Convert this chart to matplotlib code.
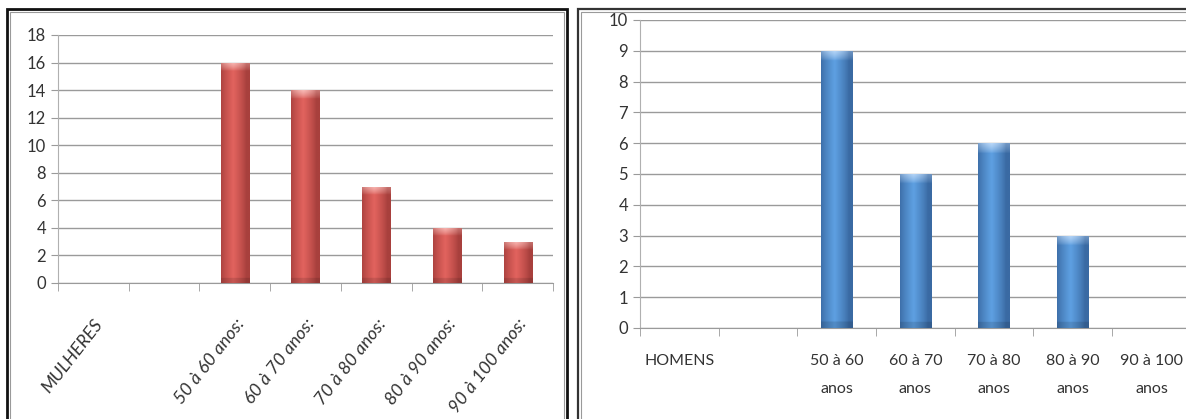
import numpy as np
import matplotlib
matplotlib.use('Agg')
import matplotlib.pyplot as plt
from matplotlib.patches import Rectangle
from matplotlib.colors import to_rgb

plt.rcParams['font.family'] = ['Liberation Sans Narrow', 'Lato', 'DejaVu Sans']

# Women by age group
mulheres_labels = ['MULHERES', '', '50 à 60 anos:', '60 à 70 anos:', '70 à 80 anos:',
                   '80 à 90 anos:', '90 à 100 anos:']
mulheres_values = [0, 0, 16, 14, 7, 4, 3]

# Men by age group
homens_labels = ['HOMENS', '', '50 à 60\nanos', '60 à 70\nanos', '70 à 80\nanos',
                 '80 à 90\nanos', '90 à 100\nanos']
homens_values = [0, 0, 9, 5, 6, 3, 0]


def shaded_bars(ax, values, base, light, dark, tint, cap):
    # plain bars first, then a gradient image clipped to each one
    x = np.arange(len(values))
    bars = ax.bar(x, values, width=0.4, color=base, edgecolor='none', zorder=3)
    light_rgb, dark_rgb, tint_rgb = (np.array(to_rgb(c)) for c in (light, dark, tint))
    cols = np.linspace(-1, 1, 40)
    # bright just left of centre, darker at both edges
    w = np.clip(1 - np.abs(cols + 0.15) * 1.1, 0, 1) ** 0.8
    for b, v in zip(bars, values):
        if v <= 0:
            continue
        ys = np.linspace(v, 0, 300)
        img = dark_rgb[None, None, :] + (light_rgb - dark_rgb)[None, None, :] * w[None, :, None]
        img = np.repeat(img, len(ys), axis=0)
        # soft highlight fading down from the top edge, narrower towards the sides
        k = np.clip(1 - (v - ys) / cap, 0, 1)[:, None] ** 0.7 * (0.35 + 0.4 * w[None, :])
        img = img * (1 - k[..., None]) + tint_rgb[None, None, :] * k[..., None]
        bot = ys < cap * 0.6
        img[bot] = img[bot] * 0.88
        im = ax.imshow(np.clip(img, 0, 1), extent=(b.get_x(), b.get_x() + b.get_width(), 0, v),
                       aspect='auto', zorder=4, interpolation='bilinear')
        im.set_clip_path(b)
    return x


def style_axes(ax, n, ymax, step):
    ax.set_xlim(-0.5, n - 0.5)
    ax.set_ylim(0, ymax)
    ax.set_yticks(np.arange(0, ymax + 1, step))
    ax.yaxis.grid(True, color='#9a9a9a', lw=1, zorder=0)
    ax.set_axisbelow(True)
    for s in ['top', 'right']:
        ax.spines[s].set_visible(False)
    ax.spines['left'].set_color('#b0b0b0')
    ax.spines['bottom'].set_color('#9a9a9a')
    ax.tick_params(axis='y', colors='#9a9a9a', length=5, labelcolor='#333333', labelsize=12)
    ax.set_xticks(np.arange(n + 1) - 0.5, minor=True)
    ax.tick_params(axis='x', which='minor', length=6, color='#9a9a9a')
    ax.tick_params(axis='x', which='major', length=0)


fig = plt.figure(figsize=(11.86, 4.19), dpi=100)

# left panel: women
ax1 = fig.add_axes([0.0489, 0.3246, 0.4174, 0.5919])
x1 = shaded_bars(ax1, mulheres_values, '#c0504d', '#e2635e', '#a8403d', '#ffd8d4', 0.6)
style_axes(ax1, len(mulheres_values), 18, 2)
ax1.set_xticks(x1)
ax1.set_xticklabels(mulheres_labels, rotation=52, ha='right', rotation_mode='anchor',
                    fontsize=13, style='italic', color='#333333')
ax1.tick_params(axis='x', which='major', pad=24)

# right panel: men
ax2 = fig.add_axes([0.5396, 0.2172, 0.4645, 0.7351])
x2 = shaded_bars(ax2, homens_values, '#4f81bd', '#5ea0e2', '#3a6aa3', '#d8eaff', 0.32)
style_axes(ax2, len(homens_values), 10, 1)
ax2.set_xticks(x2)
ax2.set_xticklabels(homens_labels, fontsize=11.5, color='#333333', linespacing=2.2, va='top')
ax2.tick_params(axis='x', which='major', pad=19)

# panel frames
fig.patches.append(Rectangle((0.0059, -0.05), 0.4722, 1.0285, transform=fig.transFigure,
                             fill=False, edgecolor='#111111', lw=2))
fig.patches.append(Rectangle((0.0085, -0.05), 0.467, 1.022, transform=fig.transFigure,
                             fill=False, edgecolor='#9a9a9a', lw=0.8))
fig.patches.append(Rectangle((0.4874, -0.05), 0.6, 1.0285, transform=fig.transFigure,
                             fill=False, edgecolor='#333333', lw=1.6))
fig.patches.append(Rectangle((0.4900, -0.05), 0.6, 1.022, transform=fig.transFigure,
                             fill=False, edgecolor='#9a9a9a', lw=0.8))

fig.savefig('out.png', dpi=100)
